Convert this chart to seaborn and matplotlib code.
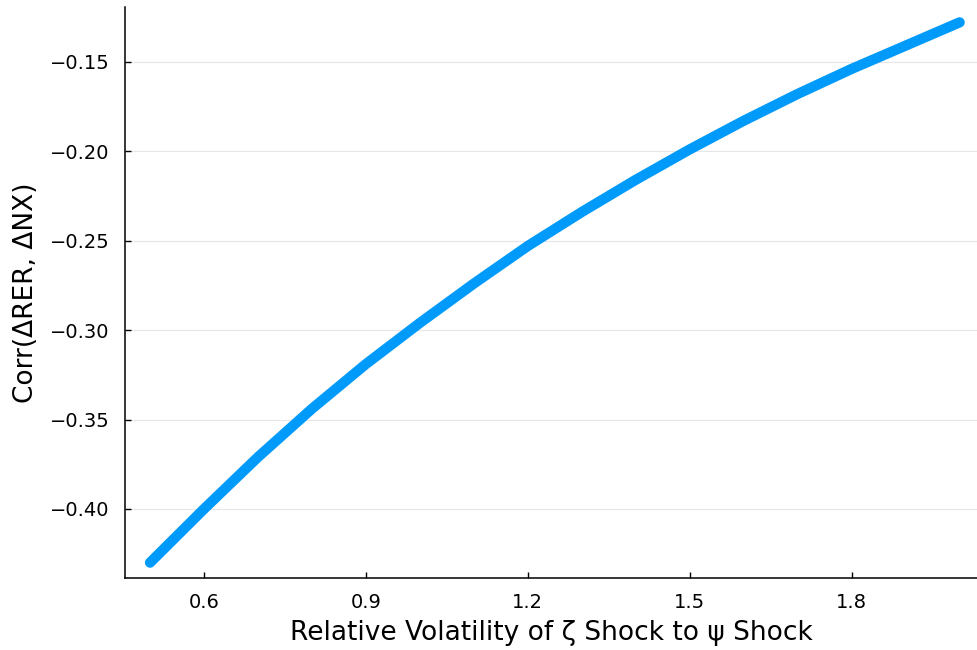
import numpy as np
import pandas as pd
import matplotlib
matplotlib.use("Agg")
import matplotlib.pyplot as plt
import seaborn as sns

# values
rel_vol = [0.5, 0.6, 0.7, 0.8, 0.9, 1.0, 1.1, 1.2, 1.3, 1.4, 1.5, 1.6, 1.7, 1.8, 1.9, 2.0]
corr_rer_nx = [-0.430, -0.400, -0.371, -0.344, -0.319, -0.296, -0.274, -0.253,
               -0.234, -0.216, -0.199, -0.183, -0.168, -0.154, -0.141, -0.128]
x_ticks = [0.6, 0.9, 1.2, 1.5, 1.8]
y_ticks = [-0.40, -0.35, -0.30, -0.25, -0.20, -0.15]

df = pd.DataFrame({"x": rel_vol, "y": corr_rer_nx})

sns.set_style("ticks")
plt.rcParams['font.family'] = ['DejaVu Sans']

fig = plt.figure(figsize=(9.78, 6.5), dpi=100)
ax = fig.add_axes([0.128, 0.111, 0.872, 0.878])

sns.lineplot(data=df, x="x", y="y", ax=ax, color="#009AFA", linewidth=7.4,
             solid_capstyle="round", solid_joinstyle="round")

ax.set_xlim(0.454, 2.034)
ax.set_ylim(-0.4385, -0.1195)
ax.set_xticks(x_ticks)
ax.set_xticklabels([f"{t:.1f}" for t in x_ticks])
ax.set_yticks(y_ticks)
ax.set_yticklabels([f"\u2212{abs(t):.2f}" for t in y_ticks])
ax.yaxis.grid(True, color="#e6e6e6", linewidth=0.8)
ax.set_axisbelow(True)
ax.tick_params(direction="in", length=4, width=1, labelsize=14, colors="black", pad=11)
for s in ["top", "right"]:
    ax.spines[s].set_visible(False)
for s in ["left", "bottom"]:
    ax.spines[s].set_linewidth(1.1)
    ax.spines[s].set_color("black")

ax.set_xlabel("Relative Volatility of \u03b6 Shock to \u03c8 Shock", fontsize=19, color="black", labelpad=6)
ax.set_ylabel("Corr(\u0394RER, \u0394NX)", fontsize=19, color="black", labelpad=8)

fig.savefig("out.png", dpi=100)
